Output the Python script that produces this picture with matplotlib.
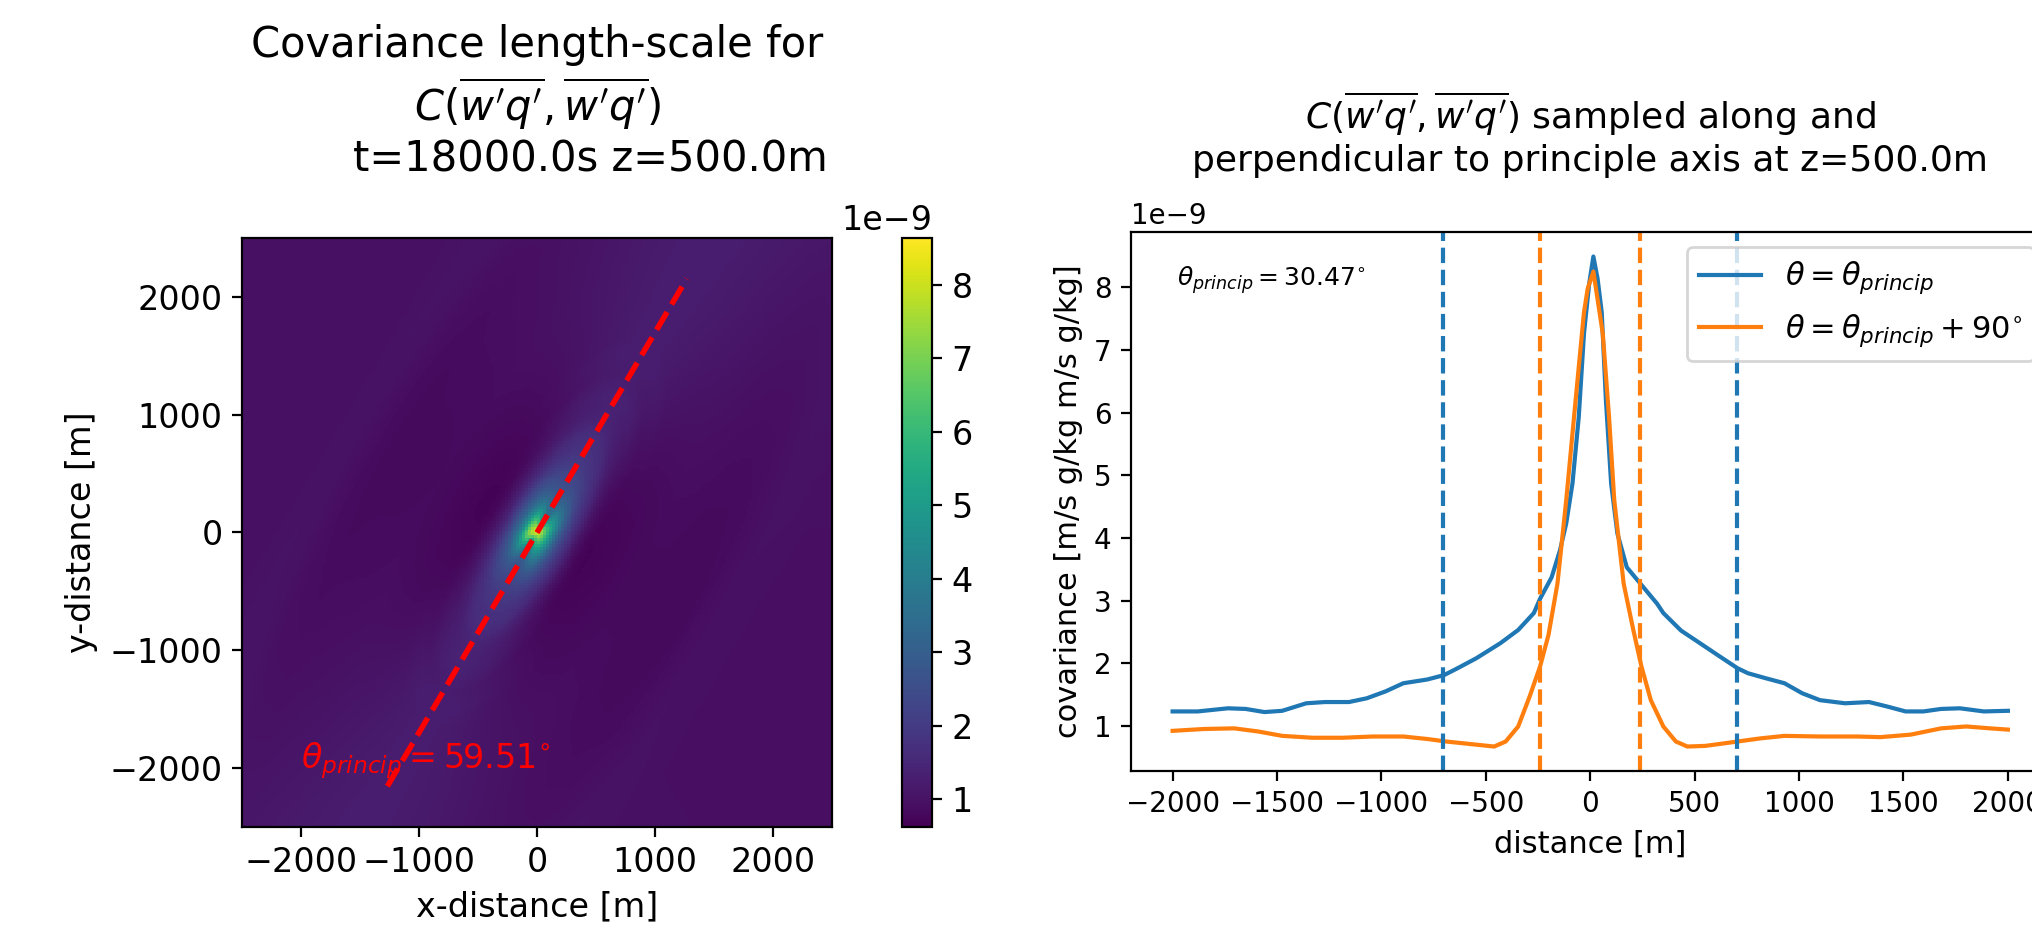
import numpy as np
import matplotlib
matplotlib.use('Agg')
import matplotlib.pyplot as plt

# principal-axis angles
theta_princip = 59.51      # from x-axis, left panel
theta_label = 30.47        # as printed on right panel
cbar_min = 0.62            # colour range, 1e-9
cbar_max = 8.64

# covariance sampled along the principal axis (1e-9)
blue_x = [-2000, -1880, -1735, -1650, -1560, -1475, -1360, -1270, -1155, -1070,
          -980, -895, -780, -700, -635, -545, -430, -345, -270, -240,
          -185, -145, -115, -85, -55, -30, -5, 15, 35, 55,
          75, 100, 130, 175, 240, 320, 350, 435, 525, 610,
          705, 755, 840, 930, 1015, 1100, 1220, 1335, 1420, 1510,
          1595, 1680, 1770, 1885, 2000]
blue_v = [1.23, 1.23, 1.28, 1.27, 1.22, 1.24, 1.36, 1.38, 1.38, 1.44,
          1.55, 1.68, 1.74, 1.81, 1.92, 2.08, 2.32, 2.53, 2.80, 3.03,
          3.37, 3.80, 4.23, 4.87, 5.93, 7.26, 8.06, 8.49, 8.14, 7.60,
          6.20, 4.87, 4.07, 3.53, 3.27, 2.95, 2.80, 2.52, 2.32, 2.13,
          1.92, 1.84, 1.76, 1.68, 1.52, 1.41, 1.36, 1.38, 1.31, 1.23,
          1.23, 1.27, 1.28, 1.23, 1.24]

# covariance sampled perpendicular to the principal axis (1e-9)
orange_x = [-2000, -1850, -1705, -1590, -1475, -1330, -1185, -1040, -895, -780,
            -690, -575, -460, -405, -345, -290, -240, -200, -157, -115,
            -70, -30, -12, 15, 60, 90, 115, 160, 205, 245,
            290, 350, 410, 465, 550, 640, 705, 815, 930, 1100,
            1275, 1390, 1535, 1680, 1800, 1915, 2000]
orange_v = [0.92, 0.95, 0.96, 0.91, 0.84, 0.81, 0.81, 0.83, 0.83, 0.79,
            0.75, 0.71, 0.67, 0.75, 0.99, 1.47, 1.95, 2.45, 3.27, 4.60,
            6.20, 7.60, 7.98, 8.25, 7.26, 5.93, 4.60, 3.27, 2.55, 1.95,
            1.41, 0.99, 0.75, 0.67, 0.68, 0.72, 0.75, 0.80, 0.84, 0.83,
            0.83, 0.82, 0.86, 0.96, 0.99, 0.96, 0.94]

# length-scales marked with dashed lines
len_along = 705
len_perp = 240

fig = plt.figure(figsize=(10.16, 4.71), dpi=200)
ax1 = fig.add_axes([0.1191, 0.1221, 0.2904, 0.6253])
cax = fig.add_axes([0.4439, 0.1221, 0.01476, 0.6253])
ax2 = fig.add_axes([0.5565, 0.1815, 0.4522, 0.5722])

# 2-D field rebuilt from the two sampled profiles on ellipses
edges = np.linspace(-2500, 2500, 201)
centres = 0.5 * (edges[1:] + edges[:-1])
X, Y = np.meshgrid(centres, centres)
t = np.deg2rad(theta_princip)
a = X * np.cos(t) + Y * np.sin(t)
p = -X * np.sin(t) + Y * np.cos(t)
k = len_along / len_perp
s = np.hypot(a, k * p)
w = np.where(s > 0, a**2 / np.maximum(s**2, 1e-6), 1.0)
along = np.interp(np.sign(a) * s, blue_x, blue_v)
perp = np.interp(np.sign(p) * s / k, orange_x, orange_v)
field = (w * along + (1 - w) * perp) * 1e-9

mesh = ax1.pcolormesh(edges, edges, field, cmap='viridis',
                      vmin=cbar_min * 1e-9, vmax=cbar_max * 1e-9)
rr = np.array([-2500, 2500])
ax1.plot(rr * np.cos(t), rr * np.sin(t), '--', color='red', lw=2)
ax1.text(-2000, -2000, r'$\theta_{princip} = %.2f^{\circ}$' % theta_princip,
         color='red', fontsize=12)
ax1.set_xlim(-2500, 2500)
ax1.set_ylim(-2500, 2500)
ax1.set_xlabel('x-distance [m]', fontsize=12)
ax1.set_ylabel('y-distance [m]', fontsize=12)
ax1.tick_params(labelsize=12)
ax1.set_title("Covariance length-scale for\n$C(\\overline{w'q'}, \\overline{w'q'})$\n"
              "        t=18000.0s z=500.0m", fontsize=15, pad=24)

cb = fig.colorbar(mesh, cax=cax)
cb.set_ticks(np.arange(1, 9) * 1e-9)
cb.ax.tick_params(labelsize=12)
cb.ax.yaxis.get_offset_text().set_fontsize(12)

# right panel: profiles
ax2.plot(blue_x, np.array(blue_v) * 1e-9, color='C0',
         label=r'$\theta = \theta_{princip}$')
ax2.plot(orange_x, np.array(orange_v) * 1e-9, color='C1',
         label=r'$\theta = \theta_{princip} + 90^{\circ}$')
for sgn in (-1, 1):
    ax2.axvline(sgn * len_along, ls='--', color='C0')
    ax2.axvline(sgn * len_perp, ls='--', color='C1')
ax2.text(0.05, 0.9, r'$\theta_{princip} = %.2f^{\circ}$' % theta_label,
         transform=ax2.transAxes, fontsize=9)
ax2.legend(loc='upper right', fontsize=11)
ax2.set_xlabel('distance [m]', fontsize=11)
ax2.set_ylabel('covariance [m/s g/kg m/s g/kg]', fontsize=11)
ax2.tick_params(labelsize=10)
ax2.yaxis.get_offset_text().set_fontsize(10)
ax2.set_title("$C(\\overline{w'q'}, \\overline{w'q'})$ sampled along and\n"
              "perpendicular to principle axis at z=500.0m", fontsize=13, pad=22)

fig.savefig('out.png', dpi=200)
